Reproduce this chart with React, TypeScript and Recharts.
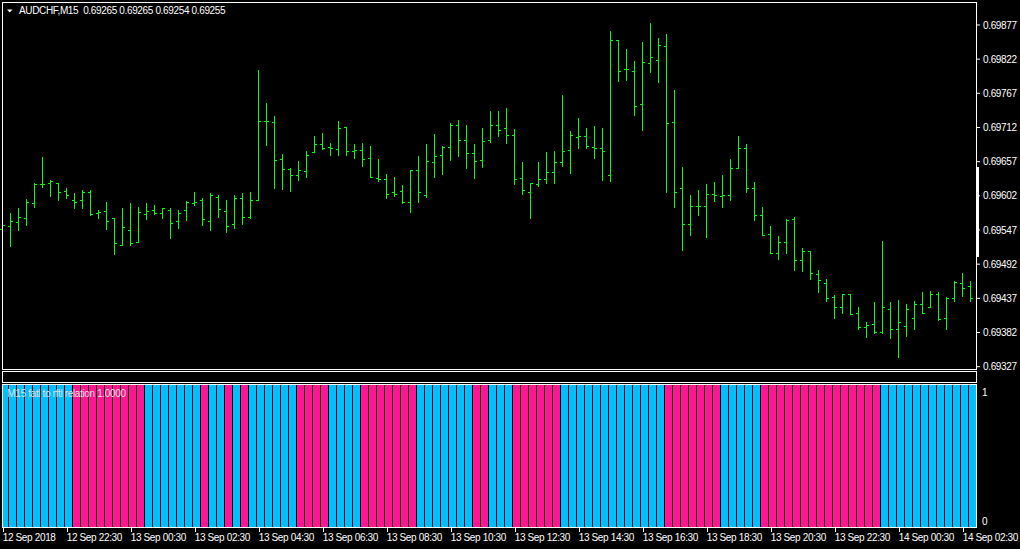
import { Bar, BarChart, Cell, ComposedChart, XAxis, YAxis } from "recharts";

// AUDCHF M15, one entry per bar (12 Sep 20:30 .. 14 Sep 02:45)
const openPrices = [
  0.69547, 0.69553, 0.69559, 0.69566, 0.6959, 0.69621, 0.69622, 0.69622, 0.69609, 0.69595,
  0.69595, 0.69608, 0.69573, 0.69576, 0.69566, 0.69522, 0.69546, 0.69527, 0.69572, 0.69578,
  0.69574, 0.69578, 0.6956, 0.69578, 0.6959, 0.69595, 0.6956, 0.696, 0.69576, 0.69556,
  0.69598, 0.69567, 0.69595, 0.69722, 0.6972, 0.69661, 0.69645, 0.69635, 0.69641, 0.69672,
  0.69685, 0.6968, 0.69677, 0.69712, 0.69674, 0.69675, 0.69662, 0.6963, 0.69629, 0.69608,
  0.69609, 0.69592, 0.69643, 0.69603, 0.69656, 0.69667, 0.6968, 0.69716, 0.69691, 0.6967,
  0.69659, 0.69691, 0.69716, 0.69711, 0.69699, 0.6963, 0.69608, 0.69621, 0.69629, 0.6964,
  0.69656, 0.69675, 0.69696, 0.69698, 0.6968, 0.69678, 0.69635, 0.69852, 0.69806, 0.69802,
  0.69749, 0.69815, 0.6982, 0.69843, 0.6972, 0.69613, 0.69556, 0.69585, 0.69585, 0.69604,
  0.69601, 0.69603, 0.69646, 0.69678, 0.69613, 0.69571, 0.6954, 0.69509, 0.69527, 0.69564,
  0.69498, 0.69513, 0.69476, 0.69461, 0.69439, 0.69423, 0.69443, 0.69413, 0.6939, 0.69395,
  0.69382, 0.69419, 0.69387, 0.69392, 0.69405, 0.69427, 0.69423, 0.69443, 0.69405, 0.69437,
  0.69461, 0.69456,
];

const highPrices = [
  0.6956, 0.69573, 0.69581, 0.69596, 0.69622, 0.69663, 0.69627, 0.69622, 0.69614, 0.69605,
  0.6961, 0.6961, 0.69578, 0.69592, 0.69566, 0.69582, 0.69589, 0.69584, 0.6959, 0.69586,
  0.69581, 0.69581, 0.69578, 0.69593, 0.69608, 0.69598, 0.69605, 0.69603, 0.69594, 0.69603,
  0.69605, 0.69608, 0.69803, 0.6975, 0.6973, 0.69669, 0.69646, 0.69658, 0.69674, 0.69698,
  0.69703, 0.69687, 0.69721, 0.69712, 0.69685, 0.69687, 0.69682, 0.6966, 0.69636, 0.69631,
  0.69618, 0.69643, 0.69666, 0.69684, 0.697, 0.69682, 0.69718, 0.69724, 0.69716, 0.69684,
  0.6971, 0.69737, 0.69737, 0.69743, 0.69708, 0.69655, 0.69622, 0.69656, 0.69671, 0.69673,
  0.69763, 0.69705, 0.69726, 0.6971, 0.69713, 0.69711, 0.69867, 0.69852, 0.69837, 0.69819,
  0.69848, 0.6988, 0.69856, 0.69861, 0.69771, 0.69648, 0.69603, 0.6961, 0.69621, 0.69623,
  0.69634, 0.6966, 0.69697, 0.69684, 0.69623, 0.69584, 0.69553, 0.69536, 0.69564, 0.69567,
  0.69518, 0.69513, 0.69482, 0.69468, 0.69442, 0.69443, 0.69443, 0.69423, 0.69398, 0.69431,
  0.69528, 0.69431, 0.69434, 0.69427, 0.69432, 0.69447, 0.69448, 0.69447, 0.69439, 0.69464,
  0.69477, 0.69464,
];

const lowPrices = [
  0.69516, 0.69521, 0.69546, 0.69555, 0.69583, 0.69615, 0.69601, 0.69595, 0.69597, 0.69581,
  0.69582, 0.6957, 0.69565, 0.69547, 0.69507, 0.69522, 0.69522, 0.69527, 0.69564, 0.69572,
  0.69565, 0.69533, 0.6955, 0.69562, 0.69587, 0.69554, 0.69546, 0.69567, 0.69543, 0.69549,
  0.69556, 0.69566, 0.69595, 0.69683, 0.69613, 0.69612, 0.69609, 0.69626, 0.69631, 0.69672,
  0.69677, 0.69667, 0.69667, 0.69667, 0.69662, 0.69649, 0.69632, 0.69625, 0.69597, 0.69601,
  0.6959, 0.69575, 0.69591, 0.69599, 0.69631, 0.69636, 0.69659, 0.69665, 0.69646, 0.6963,
  0.69647, 0.69688, 0.69697, 0.69686, 0.6962, 0.69604, 0.69565, 0.69617, 0.69622, 0.69622,
  0.69649, 0.69638, 0.69678, 0.69678, 0.69662, 0.69626, 0.69625, 0.69786, 0.69787, 0.69731,
  0.69707, 0.698, 0.69784, 0.69607, 0.69583, 0.69514, 0.69538, 0.6957, 0.69535, 0.69593,
  0.69584, 0.69594, 0.69646, 0.69607, 0.69562, 0.69538, 0.69509, 0.69499, 0.69509, 0.69481,
  0.6948, 0.69467, 0.69446, 0.69432, 0.69404, 0.69412, 0.69411, 0.69387, 0.69374, 0.69381,
  0.69381, 0.69372, 0.69341, 0.69375, 0.69387, 0.69412, 0.69423, 0.69402, 0.69387, 0.69432,
  0.6944, 0.69432,
];

const closePrices = [
  0.69555, 0.69561, 0.69567, 0.69592, 0.69621, 0.69621, 0.69625, 0.69608, 0.69603, 0.69592,
  0.69608, 0.69572, 0.69575, 0.69561, 0.69526, 0.69551, 0.69526, 0.69575, 0.69577, 0.69574,
  0.69581, 0.69558, 0.69573, 0.69592, 0.69592, 0.69564, 0.69603, 0.6958, 0.69553, 0.69597,
  0.69567, 0.69594, 0.69722, 0.69722, 0.69659, 0.69645, 0.69635, 0.69643, 0.69667, 0.69685,
  0.69678, 0.69678, 0.69711, 0.69674, 0.69675, 0.69661, 0.69632, 0.69629, 0.69604, 0.69604,
  0.69592, 0.69643, 0.69608, 0.69658, 0.69666, 0.6968, 0.69716, 0.69691, 0.6967, 0.69658,
  0.6969, 0.69716, 0.69707, 0.69699, 0.69629, 0.69611, 0.69622, 0.69629, 0.6964, 0.69656,
  0.69674, 0.69699, 0.69698, 0.69682, 0.69678, 0.69674, 0.69852, 0.69802, 0.69806, 0.69746,
  0.69817, 0.69825, 0.69844, 0.69718, 0.69608, 0.69556, 0.69585, 0.69585, 0.69604, 0.69603,
  0.69603, 0.69646, 0.69678, 0.69613, 0.69571, 0.69538, 0.69509, 0.69527, 0.69563, 0.69498,
  0.69513, 0.69477, 0.69466, 0.69437, 0.69423, 0.69443, 0.69411, 0.6939, 0.69394, 0.69382,
  0.69423, 0.69387, 0.69398, 0.69419, 0.69427, 0.69413, 0.69443, 0.69403, 0.69437, 0.69463,
  0.69453, 0.69437,
];

// 1 = fatl above rftl (blue), 0 = below (pink)
const fatlUp = [
  1, 1, 1, 1, 1, 1, 1, 1, 1, 0, 0, 0, 0, 0, 0, 0, 0, 0, 1, 1,
  1, 1, 1, 1, 1, 0, 1, 1, 0, 1, 0, 1, 1, 1, 1, 1, 1, 0, 0, 0,
  0, 1, 1, 1, 1, 0, 0, 0, 0, 0, 0, 0, 1, 1, 1, 1, 1, 1, 1, 0,
  0, 1, 1, 1, 0, 0, 0, 0, 0, 0, 1, 1, 1, 1, 1, 1, 1, 1, 1, 1,
  1, 1, 1, 0, 0, 0, 0, 0, 0, 0, 1, 1, 1, 1, 1, 0, 0, 0, 0, 0,
  0, 0, 0, 0, 0, 0, 0, 0, 0, 0, 1, 1, 1, 1, 1, 1, 1, 1, 1, 1,
  1, 1,
];
const relationValue = 1.0;

const tickBars = [0, 8, 16, 24, 32, 40, 48, 56, 64, 72, 80, 88, 96, 104, 112, 120];
const tickLabels = [
  "12 Sep 2018", "12 Sep 22:30", "13 Sep 00:30", "13 Sep 02:30", "13 Sep 04:30",
  "13 Sep 06:30", "13 Sep 08:30", "13 Sep 10:30", "13 Sep 12:30", "13 Sep 14:30",
  "13 Sep 16:30", "13 Sep 18:30", "13 Sep 20:30", "13 Sep 22:30", "14 Sep 00:30",
  "14 Sep 02:30",
];

const priceTicks = [
  0.69327, 0.69382, 0.69437, 0.69492, 0.69547, 0.69602, 0.69657, 0.69712, 0.69767,
  0.69822, 0.69877,
];

const FONT = '"Liberation Sans", Arial, sans-serif';
const BAR_COLOR = "#00ff00";
const UP_COLOR = "#00bfff";
const DOWN_COLOR = "#ff1493";
const X_DOMAIN: [number, number] = [-0.1625, 121.5875];

const rows = openPrices.map((open, i) => ({
  i,
  open,
  high: highPrices[i],
  low: lowPrices[i],
  close: closePrices[i],
  range: [lowPrices[i], highPrices[i]],
  relation: relationValue,
  up: fatlUp[i],
}));

const textStyle = { letterSpacing: -0.35 };

// vertical high-low line, open tick to the left, close tick to the right
const OhlcShape = (props: any) => {
  const { x, y, width, height, payload } = props;
  const cx = Math.floor(x + width / 2) + 0.5;
  const span = payload.high - payload.low;
  const py = (p: number) => Math.floor(y + ((payload.high - p) / span) * height) + 0.5;
  const top = Math.floor(y);
  const bottom = Math.floor(y + height) + 1;
  return (
    <g stroke={BAR_COLOR} strokeWidth={1} shapeRendering="crispEdges">
      <line x1={cx} x2={cx} y1={top} y2={bottom} />
      <line x1={cx - 2.5} x2={cx - 0.5} y1={py(payload.open)} y2={py(payload.open)} />
      <line x1={cx + 0.5} x2={cx + 2.5} y1={py(payload.close)} y2={py(payload.close)} />
    </g>
  );
};

const HistShape = (props: any) => {
  const { x, y, width, height, fill } = props;
  let left = Math.round(x + width / 2) - 2;
  let w = 7;
  if (left < 3) {
    w -= 3 - left;
    left = 3;
  }
  return <rect x={left} y={y} width={w} height={height} fill={fill} shapeRendering="crispEdges" />;
};

const PriceTick = ({ x, y, payload }: any) => (
  <text x={x} y={y} dy="0.36em" fill="#fff" fontSize={10} fontFamily={FONT} textAnchor="start" style={textStyle}>
    {payload.value.toFixed(5)}
  </text>
);

const LevelTick = ({ x, y, payload }: any) => (
  <text x={x} y={payload.value === 1 ? y + 10.5 : y - 2} fill="#fff" fontSize={10} fontFamily={FONT} textAnchor="start">
    {payload.value}
  </text>
);

const TimeTick = ({ x, y, payload }: any) => {
  const idx = tickBars.indexOf(payload.value);
  const px = Math.floor(x) + 0.5;
  return (
    <g>
      <line x1={px} x2={px} y1={y + 1} y2={y + 5} stroke="#fff" shapeRendering="crispEdges" />
      <text x={x - 0.6} y={y + 13.7} fill="#fff" fontSize={10} fontFamily={FONT} textAnchor="start" style={textStyle}>
        {tickLabels[idx]}
      </text>
    </g>
  );
};

export default function App() {
  return (
    <div
      style={{
        position: "fixed",
        left: 0,
        top: 0,
        width: 1020,
        height: 549,
        background: "#000",
        overflow: "hidden",
      }}
    >
      <div style={{ position: "absolute", left: 0, top: 0 }}>
        <ComposedChart width={1020} height={372} data={rows} margin={{ top: 3, right: 0, left: 2, bottom: 3 }}>
          <XAxis dataKey="i" type="number" domain={X_DOMAIN} hide />
          <YAxis
            orientation="right"
            width={44}
            type="number"
            domain={[0.6932326, 0.6991237]}
            ticks={priceTicks}
            interval={0}
            axisLine={false}
            tickLine={{ stroke: "#fff" }}
            tickSize={4}
            tickMargin={3}
            tick={<PriceTick />}
          />
          <Bar dataKey="range" barSize={7} isAnimationActive={false} shape={<OhlcShape />} />
        </ComposedChart>
      </div>

      <div style={{ position: "absolute", left: 0, top: 380 }}>
        <BarChart width={1020} height={169} data={rows} margin={{ top: 5, right: 0, left: 2, bottom: 0 }} barCategoryGap={0}>
          <XAxis
            dataKey="i"
            type="number"
            domain={X_DOMAIN}
            ticks={tickBars}
            interval={0}
            height={22}
            axisLine={false}
            tickLine={false}
            tickSize={0}
            tickMargin={0}
            tick={<TimeTick />}
          />
          <YAxis
            orientation="right"
            width={44}
            type="number"
            domain={[0, 1]}
            ticks={[0, 1]}
            interval={0}
            axisLine={false}
            tickLine={false}
            tickSize={0}
            tickMargin={6}
            tick={<LevelTick />}
          />
          <Bar dataKey="relation" barSize={7} isAnimationActive={false} shape={<HistShape />}>
            {rows.map((r) => (
              <Cell key={r.i} fill={r.up ? UP_COLOR : DOWN_COLOR} />
            ))}
          </Bar>
        </BarChart>
      </div>

      <svg
        width={1020}
        height={549}
        style={{ position: "absolute", left: 0, top: 0, pointerEvents: "none" }}
      >
        <g fill="none" stroke="#fff" strokeWidth={1} shapeRendering="crispEdges">
          <rect x={2.5} y={2.5} width={974} height={367} />
          <rect x={2.5} y={371.5} width={974} height={11} />
          <rect x={2.5} y={384.5} width={974} height={143} />
        </g>
        <rect x={976} y={167} width={3} height={90} fill="#fff" />
        <polygon points="7,9.5 12.5,9.5 9.75,12.5" fill="#fff" />
        <text x={19} y={14} fill="#fff" fontSize={10} fontFamily={FONT} style={textStyle}>
          AUDCHF,M15{"\u00a0\u00a0"}0.69265 0.69265 0.69254 0.69255
        </text>
        <text x={7.3} y={396.5} fill="#e0e0e0" fontSize={10} fontFamily={FONT} style={textStyle}>
          M15 fatl to rftl relation 1.0000
        </text>
      </svg>
    </div>
  );
}
